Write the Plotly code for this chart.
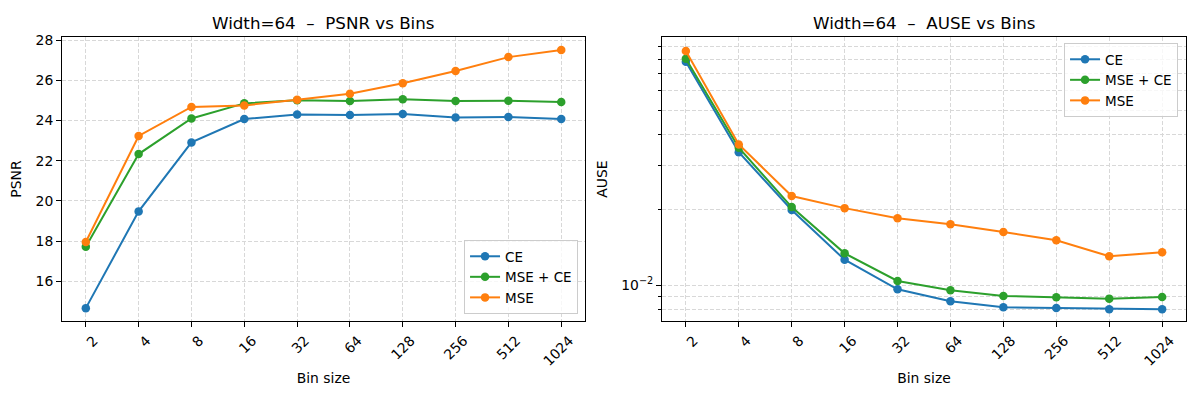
import plotly.graph_objects as go

bins = ["2", "4", "8", "16", "32", "64", "128", "256", "512", "1024"]

psnr_ce = [14.67, 19.48, 22.91, 24.07, 24.30, 24.27, 24.32, 24.15, 24.17, 24.07]
psnr_mse_ce = [17.72, 22.33, 24.10, 24.85, 25.00, 24.97, 25.05, 24.97, 24.98, 24.92]
psnr_mse = [17.96, 23.23, 24.67, 24.75, 25.03, 25.33, 25.85, 26.46, 27.15, 27.50]

ause_ce = [0.0782, 0.0340, 0.01995, 0.01262, 0.00961, 0.00861, 0.00814, 0.00809, 0.00800, 0.00800]
ause_mse_ce = [0.0804, 0.0354, 0.0205, 0.01339, 0.01038, 0.00952, 0.00904, 0.00893, 0.00882, 0.00895]
ause_mse = [0.0863, 0.0365, 0.0227, 0.0203, 0.01848, 0.01749, 0.01629, 0.01510, 0.01303, 0.01351]

series_names = ["CE", "MSE + CE", "MSE"]
colors = ["#1f77b4", "#2ca02c", "#ff7f0e"]

left_title = "Width=64\u00a0 –\u00a0 PSNR vs Bins"
right_title = "Width=64\u00a0 –\u00a0 AUSE vs Bins"

FONT = "DejaVu Sans"
fig = go.Figure()

for name, vals, c in zip(series_names, [psnr_ce, psnr_mse_ce, psnr_mse], colors):
    fig.add_trace(go.Scatter(x=bins, y=vals, name=name, mode="lines+markers",
                             line=dict(color=c, width=2), marker=dict(color=c, size=8.5),
                             xaxis="x", yaxis="y", legend="legend"))
for name, vals, c in zip(series_names, [ause_ce, ause_mse_ce, ause_mse], colors):
    fig.add_trace(go.Scatter(x=bins, y=vals, name=name, mode="lines+markers",
                             line=dict(color=c, width=2), marker=dict(color=c, size=8.5),
                             xaxis="x2", yaxis="y2", legend="legend2"))

grid = "#d8d8d8"
gdash = "4px,2px"
common_x = dict(type="category", range=[-0.45, 9.45], tickangle=-45, ticklabelshift=8,
                showline=True, mirror=True, linecolor="black", linewidth=1,
                ticks="outside", ticklen=5, tickcolor="black",
                showgrid=True, gridcolor=grid, griddash=gdash, gridwidth=0.8,
                tickfont=dict(size=13.9, color="black"), automargin=False,
                title=dict(text="Bin size", font=dict(size=13.9, color="black"), standoff=5),
                zeroline=False)

fig.update_layout(
    width=1200, height=400,
    margin=dict(l=0, r=0, t=0, b=0),
    plot_bgcolor="white", paper_bgcolor="white",
    font=dict(family=FONT, color="black"),
    xaxis=dict(domain=[0.0517, 0.4875], anchor="y", **common_x),
    xaxis2=dict(domain=[0.5517, 0.9883], anchor="y2", **common_x),
    yaxis=dict(domain=[0.1975, 0.9075], anchor="x", range=[14.03, 28.15],
               tickvals=[16, 18, 20, 22, 24, 26, 28],
               showline=True, mirror=True, linecolor="black", linewidth=1,
               ticks="outside", ticklen=5, tickcolor="black",
               showgrid=True, gridcolor=grid, griddash=gdash, gridwidth=0.8,
               tickfont=dict(size=13.9, color="black"), automargin=False, zeroline=False,
               title=dict(text="PSNR", font=dict(size=13.9, color="black"), standoff=10)),
    yaxis2=dict(domain=[0.1975, 0.9075], anchor="x2", type="log",
                range=[-2.144, -1.008],
                tickvals=[0.01], ticktext=["10<sup>−2</sup>"],
                showline=True, mirror=True, linecolor="black", linewidth=1,
                ticks="outside", ticklen=5, tickcolor="black",
                showgrid=True, gridcolor=grid, griddash=gdash, gridwidth=0.8,
                minor=dict(tickvals=[0.008, 0.009, 0.02, 0.03, 0.04, 0.05, 0.06, 0.07, 0.08, 0.09],
                           ticks="outside", ticklen=3, tickcolor="black", tickwidth=0.8,
                           showgrid=True, gridcolor=grid, griddash=gdash, gridwidth=0.8),
                tickfont=dict(size=13.9, color="black"), automargin=False, zeroline=False,
                title=dict(text="AUSE", font=dict(size=13.9, color="black"), standoff=10)),
    legend=dict(x=0.4817, y=0.215, xanchor="right", yanchor="bottom",
                bgcolor="rgba(255,255,255,0.8)", bordercolor="#cccccc", borderwidth=1,
                font=dict(size=13.5, color="black"), tracegroupgap=0),
    legend2=dict(x=0.9817, y=0.8925, xanchor="right", yanchor="top",
                 bgcolor="rgba(255,255,255,0.8)", bordercolor="#cccccc", borderwidth=1,
                 font=dict(size=13.5, color="black"), tracegroupgap=0),
    annotations=[
        dict(text=left_title, x=0.2696, y=1 - 23 / 400, xref="paper", yref="paper",
             showarrow=False, font=dict(size=16.7, color="black"), xanchor="center", yanchor="middle"),
        dict(text=right_title, x=0.77, y=1 - 23 / 400, xref="paper", yref="paper",
             showarrow=False, font=dict(size=16.7, color="black"), xanchor="center", yanchor="middle"),
    ],
)

fig.write_html("out.html")
